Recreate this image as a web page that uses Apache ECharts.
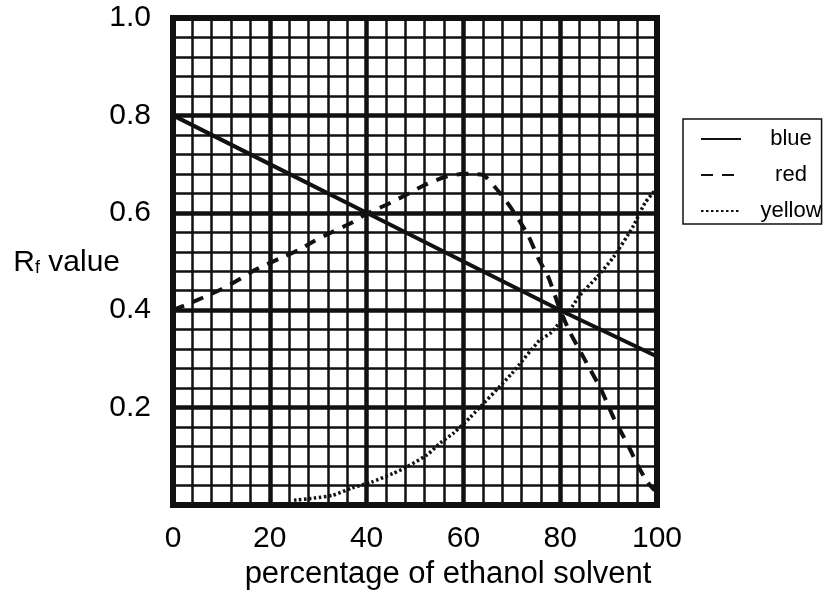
<!DOCTYPE html>
<html>
<head>
<meta charset="utf-8">
<title>Rf value vs ethanol</title>
<script src="https://cdn.jsdelivr.net/npm/echarts@6/dist/echarts.min.js"></script>
<style>
  html, body { margin: 0; padding: 0; background: #fff; }
  #chart { width: 823px; height: 594px; }
</style>
</head>
<body>
<div id="chart"></div>
<script>
// values
const blueX = [0, 20, 40, 60, 80, 100];
const blueY = [0.8, 0.7, 0.6, 0.5, 0.4, 0.305];

const redX = [0, 6, 10, 14, 17, 22, 26, 29, 33, 37, 40, 44, 48, 52, 56, 60, 64, 66.5, 69, 71.5, 73.5, 75.5, 77.5, 80, 82, 85, 88.5, 91, 94, 96, 98, 99.5];
const redY = [0.40, 0.425, 0.443, 0.465, 0.483, 0.506, 0.524, 0.541, 0.561, 0.58, 0.598, 0.616, 0.636, 0.657, 0.673, 0.68, 0.678, 0.653, 0.622, 0.585, 0.551, 0.506, 0.469, 0.40, 0.355, 0.30, 0.236, 0.18, 0.123, 0.082, 0.047, 0.03];

const yellowX = [25, 29, 33, 37, 41, 45.5, 48.3, 52.5, 55.2, 58, 61.4, 70, 75.8, 78, 82, 84, 87.6, 91, 95, 97.5, 99.5];
const yellowY = [0.01, 0.014, 0.02, 0.035, 0.047, 0.065, 0.078, 0.103, 0.127, 0.148, 0.18, 0.27, 0.339, 0.353, 0.40, 0.43, 0.468, 0.509, 0.571, 0.62, 0.645];

const xTicks = [0, 20, 40, 60, 80, 100];

const ink = '#111';
const font = 'Liberation Sans, Arial, sans-serif';

function pairs(xs, ys) {
  return xs.map((x, i) => [x, ys[i]]);
}

const chart = echarts.init(document.getElementById('chart'), null, {renderer: 'canvas'});

chart.setOption({
  animation: false,
  backgroundColor: '#fff',
  grid: {
    left: 173,
    right: 166,
    top: 18,
    bottom: 89,
    outerBoundsMode: 'none',
    containLabel: false,
    show: true,
    borderColor: ink,
    borderWidth: 6
  },
  legend: {
    orient: 'vertical',
    left: 683,
    top: 119,
    padding: [9, 0, 2, 17],
    itemGap: 14,
    itemWidth: 40,
    itemHeight: 14,
    borderColor: ink,
    borderWidth: 1.5,
    itemStyle: {opacity: 0},
    data: ['blue', 'red', 'yellow'],
    formatter: name => '{a|' + name + '}',
    textStyle: {
      color: '#000',
      fontFamily: font,
      rich: {
        a: {width: 64, align: 'center', fontSize: 22, padding: [0, 0, 0, 13], fontFamily: font, color: '#000'}
      }
    }
  },
  xAxis: {
    type: 'value',
    min: 0,
    max: 100,
    interval: 20,
    name: 'percentage of ethanol solvent',
    nameLocation: 'middle',
    nameGap: 50,
    nameTextStyle: {fontSize: 31, color: '#000', fontFamily: font, padding: [0, 0, 0, 66]},
    axisLine: {show: true, lineStyle: {color: ink, width: 6}},
    axisTick: {show: false},
    minorTick: {show: false, splitNumber: 5},
    axisLabel: {
      fontSize: 30, color: '#000', fontFamily: font, margin: 19,
      formatter: v => xTicks.includes(v) ? String(v) : ''
    },
    splitLine: {show: true, lineStyle: {color: ink, width: 4.5}},
    minorSplitLine: {show: true, lineStyle: {color: ink, width: 2.5}}
  },
  yAxis: {
    type: 'value',
    min: 0,
    max: 1,
    interval: 0.2,
    name: '{r|R}{s|f}{r| value}',
    nameLocation: 'middle',
    nameRotate: 0,
    nameGap: 53,
    nameMoveOverlap: false,
    nameTextStyle: {
      color: '#000',
      fontFamily: font,
      rich: {
        r: {fontSize: 30, fontFamily: font, color: '#000', verticalAlign: 'bottom', lineHeight: 32},
        s: {fontSize: 18, fontFamily: font, color: '#000', verticalAlign: 'bottom', lineHeight: 27}
      }
    },
    axisLine: {show: true, lineStyle: {color: ink, width: 6}},
    axisTick: {show: false},
    minorTick: {show: false, splitNumber: 5},
    axisLabel: {
      fontSize: 30, color: '#000', fontFamily: font, margin: 22,
      formatter: v => v === 0 ? '' : v.toFixed(1)
    },
    splitLine: {show: true, lineStyle: {color: ink, width: 4.5}},
    minorSplitLine: {show: true, lineStyle: {color: ink, width: 2.5}}
  },
  series: [
    {
      name: 'blue',
      type: 'line',
      symbol: 'none',
      data: pairs(blueX, blueY),
      lineStyle: {color: ink, width: 4, type: 'solid'},
      itemStyle: {color: ink},
      z: 5
    },
    {
      name: 'red',
      type: 'line',
      symbol: 'none',
      smooth: 0.2,
      data: pairs(redX, redY),
      lineStyle: {color: ink, width: 4, type: [12, 9]},
      itemStyle: {color: ink},
      z: 5
    },
    {
      name: 'yellow',
      type: 'line',
      symbol: 'none',
      smooth: 0.2,
      data: pairs(yellowX, yellowY),
      lineStyle: {color: ink, width: 3.5, type: [2.5, 2.5]},
      itemStyle: {color: ink},
      z: 5
    }
  ]
});
</script>
</body>
</html>
